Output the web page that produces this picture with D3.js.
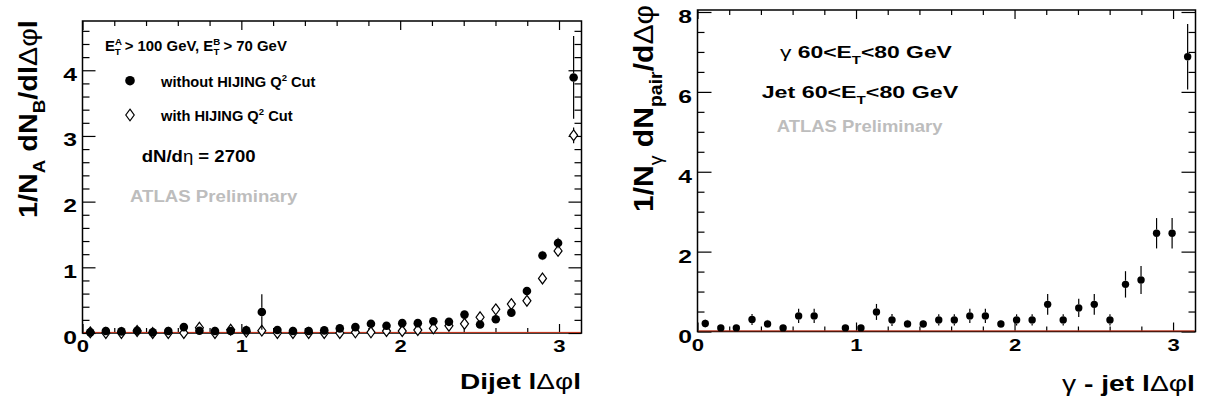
<!DOCTYPE html>
<html><head><meta charset="utf-8">
<script src="https://cdn.jsdelivr.net/npm/d3@7"></script>
<style>
html,body{margin:0;padding:0;background:#fff;}
svg{display:block;font-family:"Liberation Sans",Arial,Helvetica,sans-serif;}
</style></head><body>
<svg id="c" width="1207" height="405"></svg>
<script>
// ---------------- data ----------------
const dphiBins = [0.049,0.147,0.245,0.344,0.442,0.540,0.638,0.736,0.834,0.933,1.031,1.129,1.227,1.325,1.424,1.522,
                  1.620,1.718,1.816,1.914,2.013,2.111,2.209,2.307,2.405,2.503,2.602,2.700,2.798,2.896,2.994,3.092];
const dijetWithoutCut    = [0.01,0.03,0.025,0.035,0.01,0.03,0.09,0.035,0.03,0.03,0.04,0.32,0.045,0.03,0.03,0.04,
                            0.07,0.09,0.14,0.11,0.15,0.15,0.18,0.17,0.28,0.13,0.21,0.31,0.64,1.18,1.37,3.89];
const dijetWithoutCutErr = [0.02,0.02,0.02,0.02,0.02,0.02,0.03,0.02,0.02,0.02,0.02,0.27,0.02,0.02,0.02,0.02,
                            0.03,0.03,0.03,0.03,0.03,0.03,0.03,0.03,0.04,0.03,0.04,0.04,0.05,0.07,0.08,0.63];
const dijetWithCut       = [0.01,0.0,0.0,0.03,0.0,0.0,0.0,0.08,0.0,0.05,0.02,0.035,0.0,0.0,0.0,0.0,
                            0.0,0.01,0.01,0.03,0.03,0.045,0.07,0.11,0.14,0.24,0.36,0.44,0.49,0.83,1.25,3.01];
const dijetWithCutErr    = [0.01,0.01,0.01,0.01,0.01,0.01,0.01,0.02,0.01,0.02,0.01,0.02,0.01,0.01,0.01,0.01,
                            0.01,0.01,0.01,0.02,0.02,0.02,0.02,0.03,0.03,0.03,0.04,0.04,0.04,0.05,0.07,0.12];
const gammaJet    = [0.20,0.09,0.09,0.30,0.19,0.09,0.39,0.39,null,0.09,0.09,0.49,0.29,0.19,0.19,0.29,
                     0.29,0.39,0.39,0.19,0.29,0.29,0.68,0.29,0.59,0.68,0.29,1.18,1.29,2.46,2.46,6.88];
const gammaJetErr = [0.10,0.06,0.06,0.14,0.10,0.06,0.18,0.18,null,0.06,0.06,0.20,0.15,0.10,0.10,0.14,
                     0.14,0.18,0.18,0.10,0.14,0.14,0.26,0.14,0.23,0.26,0.14,0.33,0.35,0.38,0.38,0.82];
const xTickLabels = [0,1,2,3];
const leftYTickLabels = [0,1,2,3,4];
const rightYTickLabels = [0,2,4,6,8];

// ---------------- drawing ----------------
const svg = d3.select('#c');
const SX = 1.3; // horizontal glyph stretch of the reference

function addText(spec){
  const t = svg.append('text')
    .attr('font-size', spec.size)
    .attr('font-weight', spec.weight || 'bold')
    .attr('fill', spec.fill || '#000');
  let base = 0;
  spec.parts.forEach(p => {
    if (typeof p === 'string') p = {t:p};
    const ts = t.append('tspan').text(p.t);
    let target = 0, fs = spec.size;
    if (p.sub){ target = spec.size*0.32; fs = spec.size*0.65; }
    else if (p.sup){ target = -spec.size*0.42; fs = spec.size*0.65; }
    ts.attr('font-size', fs).attr('dy', target - base);
    base = target;
    if (p.dx) ts.attr('dx', p.dx);
    if (p.greek) ts.attr('font-weight','normal');
  });
  const bb = t.node().getBBox();
  const s = spec.width ? spec.width / bb.width : 1;
  if (spec.rotate){
    t.attr('transform', `translate(${spec.x},${spec.y}) rotate(-90) scale(${s},1) translate(${-bb.x},0)`);
  } else {
    t.attr('transform', `translate(${spec.x},${spec.y}) scale(${s},1) translate(${-bb.x},0)`);
  }
  return t;
}

function panel(cfg){
  const g = svg.append('g');
  const x = d3.scaleLinear().domain([0, Math.PI]).range([cfg.x0, cfg.x1]);
  const y = d3.scaleLinear().domain([0, cfg.yMax]).range([cfg.yBot, cfg.yTop]);
  const xMinor = d3.range(0, 3.15, 0.2).filter(v => Math.abs(v - Math.round(v)) > 1e-6);
  const yMinor = d3.range(0, cfg.yMax, cfg.yMinorStep).filter(v => cfg.yMajor.every(m => Math.abs(m - v) > 1e-6));

  function styleAxis(sel){ sel.select('.domain').remove(); sel.selectAll('line').attr('stroke','#000').attr('stroke-width',1.2); }

  // minor ticks
  g.append('g').attr('transform',`translate(0,${cfg.yBot})`).call(d3.axisBottom(x).tickValues(xMinor).tickSize(-5).tickFormat('')).call(styleAxis);
  g.append('g').attr('transform',`translate(0,${cfg.yTop})`).call(d3.axisTop(x).tickValues(xMinor).tickSize(-5).tickFormat('')).call(styleAxis);
  g.append('g').attr('transform',`translate(${cfg.x0},0)`).call(d3.axisLeft(y).tickValues(yMinor).tickSize(-7).tickFormat('')).call(styleAxis);
  g.append('g').attr('transform',`translate(${cfg.x1},0)`).call(d3.axisRight(y).tickValues(yMinor).tickSize(-7).tickFormat('')).call(styleAxis);
  // major ticks
  g.append('g').attr('transform',`translate(0,${cfg.yTop})`).call(d3.axisTop(x).tickValues(xTickLabels).tickSize(-9).tickFormat('')).call(styleAxis);
  g.append('g').attr('transform',`translate(${cfg.x1},0)`).call(d3.axisRight(y).tickValues(cfg.yMajor).tickSize(-cfg.yTickLen).tickFormat('')).call(styleAxis);
  const bx = g.append('g').attr('transform',`translate(0,${cfg.yBot})`)
    .call(d3.axisBottom(x).tickValues(xTickLabels).tickSize(-9).tickFormat(d3.format('d'))).call(styleAxis);
  bx.selectAll('text').attr('y',null).attr('dy',null).attr('fill','#000')
    .attr('font-size',17).attr('font-weight','bold').attr('text-anchor','middle')
    .attr('transform',`translate(0,19) scale(${SX},1)`);
  const ly = g.append('g').attr('transform',`translate(${cfg.x0},0)`)
    .call(d3.axisLeft(y).tickValues(cfg.yMajor).tickSize(-cfg.yTickLen).tickFormat(d3.format('d'))).call(styleAxis);
  ly.selectAll('text').attr('x',null).attr('dy',null).attr('fill','#000')
    .attr('font-size',19).attr('font-weight','bold').attr('text-anchor','end')
    .attr('transform',`translate(-5.5,${cfg.yLabOff}) scale(${SX},1)`);

  // frame
  g.append('rect').attr('x',cfg.x0).attr('y',cfg.yTop).attr('width',cfg.x1-cfg.x0).attr('height',cfg.yBot-cfg.yTop)
    .attr('fill','none').attr('stroke','#000').attr('stroke-width',1.5);
  // zero function line
  g.append('line').attr('x1',cfg.x0+1).attr('x2',cfg.x1-1).attr('y1',y(0)-0.6).attr('y2',y(0)-0.6)
    .attr('stroke','#d2391e').attr('stroke-width',1);
  return {g, x, y, cfg};
}

function series(P, values, errs, kind, r){
  const {g, x, y, cfg} = P;
  const pts = dphiBins.map((d,i) => ({d, v: values[i], e: errs[i]})).filter(p => p.v !== null);
  const mh = kind === 'diamond' ? r*1.35 : r;
  const eg = g.append('g').attr('stroke','#000').attr('stroke-width',1.2);
  pts.forEach(p => {
    const cx = x(p.d), cy = y(p.v);
    const yt = Math.max(y(p.v + p.e), cfg.yTop), yb = Math.min(y(p.v - p.e), cfg.yBot);
    if (yt < cy - mh) eg.append('line').attr('x1',cx).attr('x2',cx).attr('y1',yt).attr('y2',cy-mh);
    if (yb > cy + mh) eg.append('line').attr('x1',cx).attr('x2',cx).attr('y1',cy+mh).attr('y2',yb);
  });
  const mg = g.append('g');
  if (kind === 'circle'){
    mg.selectAll('circle').data(pts).join('circle')
      .attr('cx', p => x(p.d)).attr('cy', p => y(p.v)).attr('r', r).attr('fill','#000');
  } else {
    mg.selectAll('path').data(pts).join('path')
      .attr('d', p => diamondPath(x(p.d), y(p.v), r, mh))
      .attr('fill','#fff').attr('stroke','#000').attr('stroke-width',1.2);
  }
}
function diamondPath(cx, cy, hw, hh){
  return `M${cx},${cy-hh}L${cx+hw},${cy}L${cx},${cy+hh}L${cx-hw},${cy}Z`;
}

// ---------- left panel ----------
const L = panel({x0:82.5, x1:581.5, yTop:21, yBot:333, yMax:4.75, yMajor:leftYTickLabels, yMinorStep:0.2, yTickLen:13, yLabOff:10});
series(L, dijetWithCut, dijetWithCutErr, 'diamond', 4);
series(L, dijetWithoutCut, dijetWithoutCutErr, 'circle', 4.3);

// ---------- right panel ----------
const R = panel({x0:697.5, x1:1195.5, yTop:10, yBot:331.5, yMax:8.05, yMajor:rightYTickLabels, yMinorStep:0.5, yTickLen:14, yLabOff:10.5});
series(R, gammaJet, gammaJetErr, 'circle', 3.7);

// ---------- legend (left) ----------
svg.append('circle').attr('cx',130).attr('cy',80.7).attr('r',4.8).attr('fill','#000');
svg.append('path').attr('d', diamondPath(130, 115, 4.2, 5.8)).attr('fill','#fff').attr('stroke','#000').attr('stroke-width',1.2);

// ---------- texts ----------
addText({x:105, y:50.7, size:14, width:182, parts:['E',{t:'A',sup:true},{t:'T',sub:true,dx:'-0.75em'},' > 100 GeV, E',{t:'B',sup:true},{t:'T',sub:true,dx:'-0.7em'},' > 70 GeV']});
addText({x:160, y:87.3, size:14, width:156, parts:['without HIJING Q',{t:'2',sup:true},' Cut']});
addText({x:160, y:120.7, size:14, width:133, parts:['with HIJING Q',{t:'2',sup:true},' Cut']});
addText({x:141.7, y:161.7, size:16.5, width:114, parts:['dN/d',{t:'η',greek:true},' = 2700']});
addText({x:130, y:201.7, size:17, width:168, fill:'#bdbdbd', parts:['ATLAS Preliminary']});

addText({x:780, y:58.3, size:16.5, width:172, parts:[{t:'γ',greek:true},'  60<E',{t:'T',sub:true},'<80 GeV']});
addText({x:761.7, y:98.3, size:16.5, width:196.6, parts:['Jet 60<E',{t:'T',sub:true},'<80 GeV']});
addText({x:776.7, y:131.7, size:16.5, width:166.7, fill:'#bdbdbd', parts:['ATLAS Preliminary']});

// axis titles
addText({x:460, y:389, size:22, width:121, parts:['Dijet l',{t:'Δφ',greek:true},'l']});
addText({x:1062, y:391, size:22, width:133, parts:[{t:'γ',greek:true},' - jet l',{t:'Δφ',greek:true},'l']});
addText({x:37, y:218, size:26, width:198, rotate:true, parts:['1/N',{t:'A',sub:true},' dN',{t:'B',sub:true},'/dl',{t:'Δφ',greek:true},'l']});
addText({x:653, y:212, size:28, width:207, rotate:true, parts:['1/N',{t:'γ',sub:true,greek:true},' dN',{t:'pair',sub:true},'/d',{t:'Δφ',greek:true}]});
</script>
</body></html>
